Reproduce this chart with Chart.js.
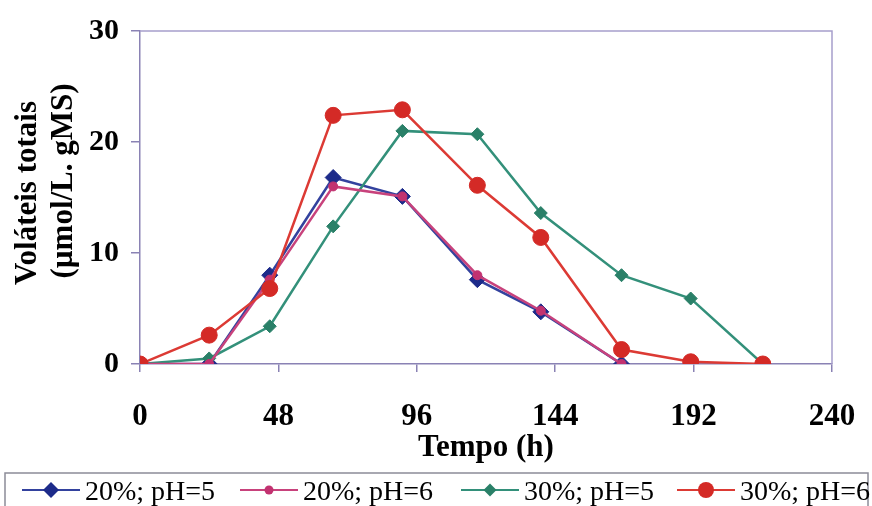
<!DOCTYPE html>
<html>
<head>
<meta charset="utf-8">
<script src="https://cdn.jsdelivr.net/npm/chart.js@4/dist/chart.umd.min.js"></script>
<style>
  html, body { margin: 0; padding: 0; background: #fff; }
  #wrap { width: 872px; height: 506px; }
</style>
</head>
<body>
<div id="wrap"><canvas id="chart" width="872" height="506"></canvas></div>
<script>
// Tempo de amostragem (h)
const hours20 = [0, 24, 45, 67, 91, 117, 139, 167];
const hours30 = [0, 24, 45, 67, 91, 117, 139, 167, 191, 216];

// Voláteis totais (µmol/L. gMS)
const u20ph5 = [0, 0, 8.0, 16.8, 15.1, 7.6, 4.7, 0];
const u20ph6 = [0, 0, 7.6, 16.0, 15.1, 8.0, 4.8, 0];
const u30ph5 = [0, 0.5, 3.4, 12.4, 21.0, 20.7, 13.6, 8.0, 5.9, 0];
const u30ph6 = [0, 2.6, 6.8, 22.4, 22.9, 16.1, 11.4, 1.3, 0.2, 0];

const seriesLabels = ['20%; pH=5', '20%; pH=6', '30%; pH=5', '30%; pH=6'];
const xTicks = [0, 48, 96, 144, 192, 240];
const yTicks = [0, 10, 20, 30];

const serif = '"Liberation Serif", "Times New Roman", serif';
const axisColor = '#8a82b4';

const pts = (xs, ys) => ys.map((y, i) => ({ x: xs[i], y: y }));

const styles = [
  { line: '#33429e', fill: '#1d2b8a', shape: 'rectRot', r: 8, order: 3 },
  { line: '#c8427c', fill: '#c23270', shape: 'circle', r: 4.5, order: 1 },
  { line: '#33907a', fill: '#2a8068', shape: 'rectRot', r: 6.5, order: 2 },
  { line: '#dc3a34', fill: '#d42a26', shape: 'circle', r: 8, order: 0 }
];
const series = [pts(hours20, u20ph5), pts(hours20, u20ph6), pts(hours30, u30ph5), pts(hours30, u30ph6)];

function marker(ctx, s, x, y) {
  ctx.fillStyle = s.fill;
  ctx.beginPath();
  if (s.shape === 'circle') {
    ctx.arc(x, y, s.r, 0, Math.PI * 2);
  } else {
    ctx.moveTo(x - s.r, y);
    ctx.lineTo(x, y - s.r);
    ctx.lineTo(x + s.r, y);
    ctx.lineTo(x, y + s.r);
    ctx.closePath();
  }
  ctx.fill();
}

// frame, axis titles and the boxed legend under the plot
const decor = {
  id: 'decor',
  beforeDraw(chart) {
    const ctx = chart.ctx;
    ctx.save();
    ctx.fillStyle = '#fff';
    ctx.fillRect(0, 0, chart.width, chart.height);
    ctx.restore();
  },
  afterDraw(chart) {
    const { ctx, chartArea: a } = chart;
    ctx.save();

    ctx.strokeStyle = '#a79fcc';
    ctx.lineWidth = 1.5;
    ctx.beginPath();
    ctx.moveTo(a.left, a.top);
    ctx.lineTo(a.right, a.top);
    ctx.lineTo(a.right, a.bottom);
    ctx.stroke();

    ctx.fillStyle = '#000';
    ctx.font = 'bold 31px ' + serif;
    ctx.textAlign = 'center';
    ctx.textBaseline = 'alphabetic';
    ctx.fillText('Tempo (h)', (a.left + a.right) / 2, 456);

    ctx.save();
    ctx.translate(36, 193);
    ctx.rotate(-Math.PI / 2);
    ctx.fillText('Voláteis totais', 0, 0);
    ctx.restore();
    ctx.save();
    ctx.translate(72, 181);
    ctx.rotate(-Math.PI / 2);
    ctx.fillText('(µmol/L. gMS)', 0, 0);
    ctx.restore();

    ctx.strokeStyle = '#8c8c98';
    ctx.lineWidth = 1.5;
    ctx.strokeRect(5, 473, 863, 40);

    const starts = [22, 240, 461, 677];
    ctx.font = '28px ' + serif;
    ctx.textAlign = 'left';
    starts.forEach((sx, i) => {
      const s = styles[i];
      ctx.strokeStyle = s.line;
      ctx.lineWidth = 2;
      ctx.beginPath();
      ctx.moveTo(sx, 490);
      ctx.lineTo(sx + 58, 490);
      ctx.stroke();
      marker(ctx, s, sx + 29, 490);
      ctx.fillStyle = '#000';
      ctx.fillText(seriesLabels[i], sx + 63, 500);
    });
    ctx.restore();
  }
};

new Chart(document.getElementById('chart'), {
  type: 'line',
  data: {
    datasets: series.map((data, i) => ({
      label: seriesLabels[i],
      data: data,
      order: styles[i].order,
      borderColor: styles[i].line,
      borderWidth: 2.5,
      backgroundColor: styles[i].fill,
      pointStyle: styles[i].shape,
      pointRadius: styles[i].r,
      pointBorderColor: styles[i].fill,
      pointBackgroundColor: styles[i].fill,
      pointBorderWidth: 1,
      tension: 0,
      fill: false
    }))
  },
  options: {
    responsive: false,
    animation: false,
    layout: { padding: { top: 31, right: 40, left: 0, bottom: 0 } },
    plugins: { legend: { display: false }, tooltip: { enabled: false } },
    scales: {
      x: {
        type: 'linear',
        min: 0,
        max: 240,
        afterFit: s => { s.height = 142; s.paddingLeft = 0; s.paddingRight = 0; },
        afterBuildTicks: s => { s.ticks = xTicks.map(v => ({ value: v })); },
        grid: { drawOnChartArea: false, drawTicks: true, tickLength: 8, color: axisColor, lineWidth: 1.5 },
        border: { display: true, color: axisColor, width: 1.5 },
        ticks: { color: '#000', padding: 26, maxRotation: 0, font: { family: serif, size: 31, weight: 'bold' } }
      },
      y: {
        min: 0,
        max: 30,
        afterFit: s => { s.width = 140; s.paddingTop = 0; s.paddingBottom = 0; },
        afterBuildTicks: s => { s.ticks = yTicks.map(v => ({ value: v })); },
        grid: { drawOnChartArea: false, drawTicks: true, tickLength: 9, color: axisColor, lineWidth: 1.5 },
        border: { display: true, color: axisColor, width: 1.5 },
        ticks: { color: '#000', padding: 12, font: { family: serif, size: 30, weight: 'bold' } }
      }
    }
  },
  plugins: [decor]
});
</script>
</body>
</html>
